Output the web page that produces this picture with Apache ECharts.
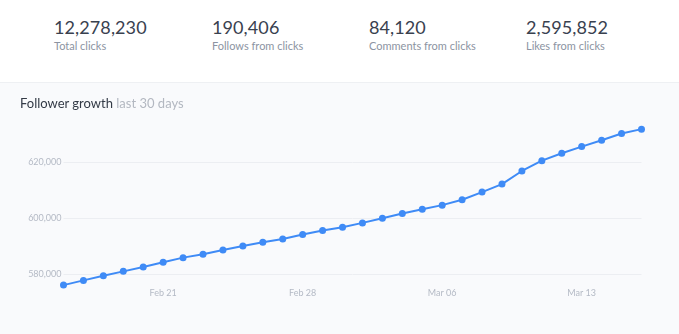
<!DOCTYPE html>
<html>
<head>
<meta charset="utf-8">
<script src="https://cdn.jsdelivr.net/npm/echarts@6/dist/echarts.min.js"></script>
<style>
  html, body { margin: 0; padding: 0; width: 679px; height: 334px; overflow: hidden; background: #ffffff; font-family: Lato, "Open Sans", sans-serif; }
  .stats { position: absolute; left: 0; top: 0; width: 679px; height: 83px; background: #ffffff; }
  .stat { position: absolute; top: 16px; }
  .stat .num { font-size: 18px; color: #39414f; line-height: 22px; letter-spacing: 0.1px; }
  .stat .lbl { font-size: 11px; color: #8c94a2; line-height: 14px; margin-top: 1px; }
  .panel { position: absolute; left: 0; top: 82px; width: 679px; height: 252px; background: #f9fafc; border-top: 1px solid #eef0f3; }
  .title { position: absolute; left: 20px; top: 12px; font-size: 13px; color: #333a46; white-space: nowrap; }
  .title span { color: #b3b8c1; }
  #chart { position: absolute; left: 0; top: 0; width: 679px; height: 252px; }
</style>
</head>
<body>
<div class="stats">
  <div class="stat" style="left:54px"><div class="num">12,278,230</div><div class="lbl">Total clicks</div></div>
  <div class="stat" style="left:212px"><div class="num">190,406</div><div class="lbl">Follows from clicks</div></div>
  <div class="stat" style="left:369px"><div class="num">84,120</div><div class="lbl">Comments from clicks</div></div>
  <div class="stat" style="left:526px"><div class="num">2,595,852</div><div class="lbl">Likes from clicks</div></div>
</div>
<div class="panel">
  <div id="chart"></div>
  <div class="title">Follower growth <span>last 30 days</span></div>
</div>
<script>
// Daily dates for the last 30 days (2016, leap February)
const days = [
  'Feb 16','Feb 17','Feb 18','Feb 19','Feb 20','Feb 21','Feb 22','Feb 23','Feb 24','Feb 25',
  'Feb 26','Feb 27','Feb 28','Feb 29','Mar 01','Mar 02','Mar 03','Mar 04','Mar 05','Mar 06',
  'Mar 07','Mar 08','Mar 09','Mar 10','Mar 11','Mar 12','Mar 13','Mar 14','Mar 15','Mar 16'
];
// Total followers at the end of each day
const followers = [
  576180, 577860, 579540, 581070, 582610, 584290, 585960, 587140, 588680, 590110,
  591430, 592610, 594180, 595610, 596790, 598320, 600000, 601680, 603210, 604640,
  606540, 609290, 612140, 616790, 620460, 623110, 625460, 627750, 630110, 631680
];
// Dates that get an x-axis label (weekly)
const dateTicks = ['Feb 21', 'Feb 28', 'Mar 06', 'Mar 13'];
const yStep = 20000;

const chart = echarts.init(document.getElementById('chart'));
chart.setOption({
  animation: false,
  grid: { left: 63.5, right: 37.5, top: 34, bottom: 55 },
  xAxis: {
    type: 'category',
    data: days,
    boundaryGap: false,
    axisLine: { show: false },
    axisTick: { show: false },
    axisLabel: {
      interval: (i, v) => dateTicks.includes(v),
      color: '#b4bac5',
      fontFamily: 'Lato',
      fontSize: 9,
      margin: 9
    },
    splitLine: { show: false }
  },
  yAxis: {
    type: 'value',
    min: 578000,
    max: 636000,
    minInterval: yStep,
    maxInterval: yStep,
    axisLine: { show: false },
    axisTick: { show: false },
    axisLabel: {
      showMinLabel: false,
      showMaxLabel: false,
      color: '#b4bac5',
      fontFamily: 'Lato',
      fontSize: 9,
      margin: 2,
      formatter: v => v.toLocaleString('en-US')
    },
    splitLine: { showMinLine: false, showMaxLine: false, lineStyle: { color: '#eceef2', width: 1 } }
  },
  series: [{
    type: 'line',
    data: followers,
    clip: false,
    symbol: 'circle',
    symbolSize: 7,
    lineStyle: { color: '#3f8bf6', width: 2 },
    itemStyle: { color: '#3f8bf6' }
  }]
});
</script>
</body>
</html>
